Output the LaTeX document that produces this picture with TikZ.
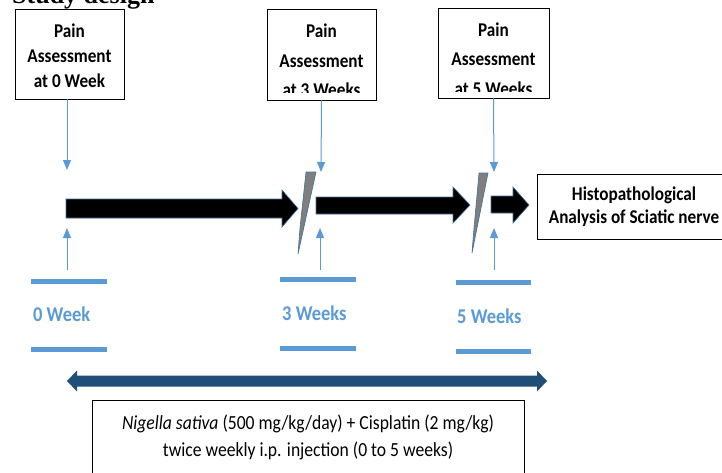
\documentclass[tikz,border=0pt]{standalone}
\usepackage{fontspec}
\setmainfont{Carlito}
\newfontfamily\calfont[FakeStretch=0.88]{Carlito}
\newfontfamily\titlefont{Liberation Serif}
\usetikzlibrary{arrows.meta}
\definecolor{lblue}{HTML}{5B9BD5}
\definecolor{dblue}{HTML}{1F4E79}
\definecolor{outl}{HTML}{41719C}
\definecolor{slashgray}{HTML}{7F7F7F}
\begin{document}
\begin{tikzpicture}[x=1pt,y=-1pt,
  box/.style={draw=black, line width=0.9pt, rectangle, inner sep=0pt},
  boxtext/.style={font=\calfont\bfseries\fontsize{19.5}{25}\selectfont, align=center, inner sep=0pt},
  boxtextw/.style={font=\calfont\bfseries\fontsize{19.5}{29.5}\selectfont, align=center, inner sep=0pt},
  tick/.style={draw=lblue, line width=1pt, -{Triangle[width=8pt,length=10pt]}},
  bar/.style={draw=lblue, line width=5pt},
  weeklbl/.style={font=\calfont\bfseries\fontsize{21}{21}\selectfont, text=lblue, anchor=west, inner sep=0pt},
  bigarrow/.style={fill=black, draw=outl, line width=0.6pt},
  slash/.style={fill=slashgray, draw=outl, line width=0.6pt}
]
\useasboundingbox (0,0) rectangle (722,472);
\fill[white] (0,0) rectangle (722,472);

% title (cut at top)
\node[font=\titlefont\bfseries\fontsize{26}{26}\selectfont, anchor=base west, inner sep=0pt] (title) at (12,3) {Study design};

% assessment boxes
\node[box, minimum width=109pt, minimum height=90pt] (b1) at (69.5,54) {};
\node[boxtext] (t1) at (69.5,55.5) {Pain\\Assessment\\at 0 Week};

\node[box, minimum width=109pt, minimum height=91pt] (b2) at (321.5,54.5) {};
\begin{scope}
  \clip (267,9) rectangle (376,92);
  \node[boxtextw] (t2) at (321.5,60.5) {Pain\\Assessment\\at 3 Weeks};
\end{scope}

\node[box, minimum width=111pt, minimum height=90pt] (b3) at (493.5,53) {};
\begin{scope}
  \clip (438,8) rectangle (549,91);
  \node[boxtextw] (t3) at (493.5,59) {Pain\\Assessment\\at 5 Weeks};
\end{scope}

% histopathology box
\node[box, minimum width=194pt, minimum height=65pt] (h) at (634,206.5) {};
\node[boxtext, font=\calfont\bfseries\fontsize{19.5}{23}\selectfont] (ht) at (634,207) {Histopathological\\Analysis of Sciatic nerve};

% downward ticks
\coordinate (d1) at (67,170);
\coordinate (d2) at (321,172);
\coordinate (d3) at (494,172);
\draw[tick] ([xshift=-2.5pt]b1.south) -- (d1);
\draw[tick] (b2.south) -- (d2);
\draw[tick] (b3.south) -- (d3);

% upward ticks
\coordinate (u1s) at (67,270); \coordinate (u1) at (67,228);
\coordinate (u2s) at (320,270); \coordinate (u2) at (320,228);
\coordinate (u3s) at (494,270); \coordinate (u3) at (494,228);
\draw[tick] (u1s) -- (u1);
\draw[tick] (u2s) -- (u2);
\draw[tick] (u3s) -- (u3);

% big black arrows
\draw[bigarrow] (66,199) -- (282,199) -- (282,190) -- (298,208.5) -- (282,227) -- (282,218) -- (66,218) -- cycle;
\draw[bigarrow] (316,197) -- (453,197) -- (453,187) -- (470,205) -- (453,223) -- (453,214) -- (316,214) -- cycle;
\draw[bigarrow] (491,196) -- (513,196) -- (513,187) -- (529,205) -- (513,223) -- (513,213) -- (491,213) -- cycle;

% break slashes
\draw[slash] (306,172) -- (316,172) -- (298,254) -- (300,228) -- cycle;
\draw[slash] (479,173) -- (488,173) -- (472,253) -- (474,228) -- cycle;

% week bars and labels
\draw[bar] (31,281) -- (107,281);
\draw[bar] (31,349) -- (107,349);
\node[weeklbl] (w0) at (33,314) {0 Week};
\draw[bar] (280,279) -- (356,279);
\draw[bar] (280,348) -- (356,348);
\node[weeklbl] (w3) at (282,313) {3 Weeks};
\draw[bar] (456,282) -- (531,282);
\draw[bar] (456,351) -- (531,351);
\node[weeklbl] (w5) at (457,316) {5 Weeks};

% treatment double arrow
\fill[dblue] (67,381) -- (77,370.5) -- (77,375.5) -- (537,375.5) -- (537,370.5) -- (547,381) -- (537,391.5) -- (537,386.5) -- (77,386.5) -- (77,391.5) -- cycle;

% treatment box
\node[box, minimum width=432pt, minimum height=78pt] (tb) at (308,439) {};
\node[inner sep=0pt, align=center, font=\calfont\fontsize{20}{27}\selectfont] (tt) at (308,437) {\textit{Nigella sativa} (500 mg/kg/day) + Cisplatin (2 mg/kg)\\twice weekly i.p. injection (0 to 5 weeks)};
\end{tikzpicture}
\end{document}
